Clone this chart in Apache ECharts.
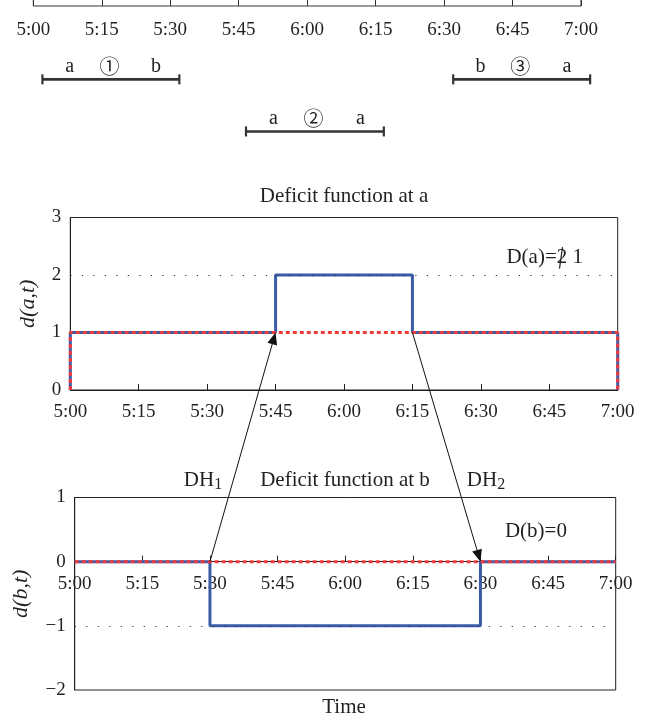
<!DOCTYPE html>
<html>
<head>
<meta charset="utf-8">
<script src="https://cdn.jsdelivr.net/npm/echarts@6/dist/echarts.min.js"></script>
<style>
  html, body { margin: 0; padding: 0; background: #fff; }
  #main { width: 649px; height: 721px; }
</style>
</head>
<body>
<div id="main"></div>
<script>
// time is in minutes after 5:00
const timeLabels = ['5:00', '5:15', '5:30', '5:45', '6:00', '6:15', '6:30', '6:45', '7:00']

// duties on the top time line
const intervalStart = [2, 46.6, 92]
const intervalEnd = [32, 76.8, 122]
const intervalFrom = ['a', 'a', 'b']
const intervalNo = ['\u2460', '\u2461', '\u2462']
const intervalTo = ['b', 'a', 'a']
const intervalRow = [1, 2, 1]

// deficit function at a
const deficitATime = [0, 0, 45, 45, 75, 75, 120, 120]
const deficitAValue = [0, 1, 1, 2, 2, 1, 1, 0]
const baseATime = [0, 0, 120, 120]
const baseAValue = [0, 1, 1, 0]

// deficit function at b
const deficitBTime = [0, 30, 30, 90, 90, 120]
const deficitBValue = [0, 0, -1, -1, 0, 0]
const baseBTime = [0, 120]
const baseBValue = [0, 0]
const yRangeB = [-2, 1]

// deadheading arrows: [grid, time, value]
const arrowFrom = [[3, 30, 0], [2, 75, 1]]
const arrowTo = [[2, 45, 1], [3, 90, 0]]

// notes inside the plots: D(a) has its 2 struck out
const noteGrid = [2, 3]
const noteAt = [[104, 2.31], [102.3, 0.47]]
const notePre = ['D(a)=', 'D(b)=0']
const noteStruck = ['2', '']
const notePost = [' 1', '']

const serif = "'Liberation Serif', 'DejaVu Serif', serif"
const ink = '#231f20'
const blue = '#3a5ba6'
const red = '#ee3b3b'

const zip = (xs, ys) => xs.map((x, i) => [x, ys[i]])
const timeFmt = v => timeLabels[Math.round(v / 15)]
const labelStyle = { color: ink, fontSize: 19, fontFamily: serif, margin: 13, formatter: timeFmt }

const gridB = { left: 74.7, right: 33.3, top: 497.5, height: 192.5 }
const zeroOffsetB = -gridB.height * (0 - yRangeB[0]) / (yRangeB[1] - yRangeB[0])

const chart = echarts.init(document.getElementById('main'))

chart.setOption({
  animation: false,
  backgroundColor: '#fff',
  grid: [
    { left: 33.3, right: 68, top: -40, height: 46, show: true, borderColor: '#333', borderWidth: 1, outerBoundsMode: 'none' },
    { left: 33.3, right: 68, top: 27.25, height: 156.3, outerBoundsMode: 'none' },
    { left: 70.3, right: 31.3, top: 217.5, height: 172.5, show: true, borderColor: ink, borderWidth: 1, outerBoundsMode: 'none' },
    Object.assign({ show: true, borderColor: ink, borderWidth: 1, outerBoundsMode: 'none' }, gridB)
  ],
  xAxis: [
    {
      gridIndex: 0, type: 'value', min: 0, max: 120, interval: 15,
      axisLine: { show: false }, axisTick: { show: false },
      splitLine: { show: true, lineStyle: { color: '#333', width: 1 } },
      axisLabel: Object.assign({}, labelStyle, { margin: 15 })
    },
    { gridIndex: 1, type: 'value', min: 0, max: 120, show: false },
    {
      gridIndex: 2, type: 'value', min: 0, max: 120, interval: 15,
      axisLine: { lineStyle: { color: ink } },
      axisTick: { inside: true, length: 6, lineStyle: { color: ink } },
      splitLine: { show: false },
      axisLabel: labelStyle
    },
    {
      gridIndex: 3, type: 'value', min: 0, max: 120, interval: 15,
      position: 'bottom', offset: zeroOffsetB,
      axisLine: { onZero: false, lineStyle: { color: ink } },
      axisTick: { inside: true, length: 6, lineStyle: { color: ink } },
      splitLine: { show: false },
      axisLabel: labelStyle
    }
  ],
  yAxis: [
    { gridIndex: 0, type: 'value', show: false },
    { gridIndex: 1, type: 'value', min: 0, max: 3, inverse: true, show: false },
    {
      gridIndex: 2, type: 'value', min: 0, max: 3, interval: 1,
      axisLine: { show: true, lineStyle: { color: ink } },
      axisTick: { show: false }, splitLine: { show: false },
      axisLabel: { color: ink, fontSize: 19, fontFamily: serif, margin: 9 },
      name: 'd(a,t)', nameLocation: 'middle', nameGap: 31, nameRotate: 90,
      nameTextStyle: { color: ink, fontSize: 22, fontStyle: 'italic', fontFamily: serif }
    },
    {
      gridIndex: 3, type: 'value', min: yRangeB[0], max: yRangeB[1], interval: 1,
      axisLine: { show: true, onZero: false, lineStyle: { color: ink } },
      axisTick: { show: false }, splitLine: { show: false },
      axisLabel: {
        color: ink, fontSize: 19, fontFamily: serif, margin: 9,
        formatter: v => (v < 0 ? '\u2212' + (-v) : String(v))
      },
      name: 'd(b,t)', nameLocation: 'middle', nameGap: 42, nameRotate: 90,
      nameTextStyle: { color: ink, fontSize: 22, fontStyle: 'italic', fontFamily: serif }
    }
  ],
  series: [
    {
      type: 'custom',
      xAxisIndex: 1,
      yAxisIndex: 1,
      clip: false,
      data: intervalStart.map((s, i) => [s, intervalEnd[i], intervalRow[i]]),
      renderItem(params, api) {
        const i = params.dataIndex
        const p = api.coord([api.value(0), api.value(2)])
        const q = api.coord([api.value(1), api.value(2)])
        const len = q[0] - p[0]
        const ty = p[1] - 13
        const txt = (s, x, font) => ({
          type: 'text',
          style: { text: s, x: x, y: ty, align: 'center', verticalAlign: 'middle', font: font, fill: ink }
        })
        const letter = '20px ' + serif
        return {
          type: 'group',
          children: [
            { type: 'line', shape: { x1: p[0], y1: p[1], x2: q[0], y2: q[1] }, style: { stroke: '#333', lineWidth: 2.6 } },
            { type: 'line', shape: { x1: p[0], y1: p[1] - 5, x2: p[0], y2: p[1] + 5 }, style: { stroke: '#333', lineWidth: 2.2 } },
            { type: 'line', shape: { x1: q[0], y1: q[1] - 5, x2: q[0], y2: q[1] + 5 }, style: { stroke: '#333', lineWidth: 2.2 } },
            txt(intervalFrom[i], p[0] + len * 0.2, letter),
            txt(intervalNo[i], p[0] + len * 0.49, "20px 'Noto Sans CJK SC', sans-serif"),
            txt(intervalTo[i], p[0] + len * 0.83, letter)
          ]
        }
      }
    },
    {
      type: 'line', xAxisIndex: 2, yAxisIndex: 2, data: [], z: 1,
      markLine: {
        silent: true, symbol: 'none', label: { show: false },
        lineStyle: { color: '#333', width: 1.2, type: [1.2, 10.3] },
        data: [{ yAxis: 2 }]
      }
    },
    {
      type: 'line', xAxisIndex: 2, yAxisIndex: 2, clip: false, z: 2,
      data: zip(deficitATime, deficitAValue), showSymbol: false,
      lineStyle: { color: blue, width: 3 }
    },
    {
      type: 'line', xAxisIndex: 2, yAxisIndex: 2, clip: false, z: 3,
      data: zip(baseATime, baseAValue), showSymbol: false,
      lineStyle: { color: red, width: 3, type: [4, 3] }
    },
    {
      type: 'line', xAxisIndex: 3, yAxisIndex: 3, data: [], z: 1,
      markLine: {
        silent: true, symbol: 'none', label: { show: false },
        lineStyle: { color: '#333', width: 1.2, type: [1.2, 10.3] },
        data: [{ yAxis: -1 }]
      }
    },
    {
      type: 'line', xAxisIndex: 3, yAxisIndex: 3, clip: false, z: 2,
      data: zip(deficitBTime, deficitBValue), showSymbol: false,
      lineStyle: { color: blue, width: 3 }
    },
    {
      type: 'line', xAxisIndex: 3, yAxisIndex: 3, clip: false, z: 3,
      data: zip(baseBTime, baseBValue), showSymbol: false,
      lineStyle: { color: red, width: 3, type: [4, 3] }
    }
  ]
})

const textSize = 21
const subSize = 16
const text = (s, x, y, align, size) => ({
  type: 'text', z: 10,
  style: {
    text: s, x: x, y: y, align: align || 'center', verticalAlign: 'middle',
    font: (size || textSize) + 'px ' + serif, fill: ink
  }
})

const graphics = [
  text('Deficit function at a', 344, 196),
  text('Deficit function at b', 345, 480),
  text('Time', 344, 707)
]

const ctx = document.createElement('canvas').getContext('2d')
const measure = (s, size) => {
  ctx.font = size + 'px ' + serif
  return ctx.measureText(s).width
}

// deadhead labels with a subscript
const dhLabels = [['DH', '1', 203, 480], ['DH', '2', 486, 480]]
dhLabels.forEach(([main, sub, cx, cy]) => {
  const wm = measure(main, textSize)
  const x0 = cx - (wm + measure(sub, subSize)) / 2
  graphics.push(text(main, x0, cy, 'left'))
  graphics.push(text(sub, x0 + wm, cy + 5, 'left', subSize))
})

// notes, with the strike-out over the struck digit
notePre.forEach((s, i) => {
  const p = chart.convertToPixel({ gridIndex: noteGrid[i] }, noteAt[i])
  const full = s + noteStruck[i] + notePost[i]
  const x0 = p[0] - measure(full, textSize) / 2
  graphics.push(text(full, x0, p[1], 'left'))
  if (noteStruck[i]) {
    const c = x0 + measure(s, textSize) + measure(noteStruck[i], textSize) / 2
    graphics.push({
      type: 'line', z: 11,
      shape: { x1: c + 0.5, y1: p[1] - 10, x2: c - 2.5, y2: p[1] + 11.5 },
      style: { stroke: ink, lineWidth: 1.2 }
    })
  }
})

arrowFrom.forEach((f, i) => {
  const t = arrowTo[i]
  const a = chart.convertToPixel({ gridIndex: f[0] }, [f[1], f[2]])
  const b = chart.convertToPixel({ gridIndex: t[0] }, [t[1], t[2]])
  const dx = b[0] - a[0]
  const dy = b[1] - a[1]
  const d = Math.sqrt(dx * dx + dy * dy)
  const ux = dx / d
  const uy = dy / d
  const L = 12
  const W = 5
  const bx = b[0] - ux * L
  const by = b[1] - uy * L
  graphics.push({
    type: 'line', z: 10,
    shape: { x1: a[0], y1: a[1], x2: bx, y2: by },
    style: { stroke: '#111', lineWidth: 1 }
  })
  graphics.push({
    type: 'polygon', z: 10,
    shape: { points: [[b[0], b[1]], [bx - uy * W, by + ux * W], [bx + uy * W, by - ux * W]] },
    style: { fill: '#111' }
  })
})

chart.setOption({ graphic: graphics })
</script>
</body>
</html>
